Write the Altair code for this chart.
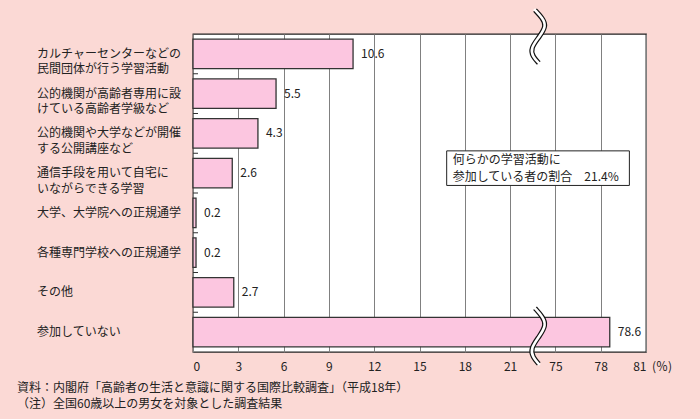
import altair as alt
import pandas as pd

FONT = "Noto Sans CJK JP"

categories = [
    "カルチャーセンターなどの\n民間団体が行う学習活動",
    "公的機関が高齢者専用に設\nけている高齢者学級など",
    "公的機関や大学などが開催\nする公開講座など",
    "通信手段を用いて自宅に\nいながらできる学習",
    "大学、大学院への正規通学",
    "各種専門学校への正規通学",
    "その他",
    "参加していない",
]
values = [10.6, 5.5, 4.3, 2.6, 0.2, 0.2, 2.7, 78.6]
tick_values = [0, 3, 6, 9, 12, 15, 18, 21, 75, 78, 81]
BREAK_LOW, BREAK_HIGH = 24, 75   # axis break: 24 on the display scale shows 75
SHIFT = BREAK_HIGH - BREAK_LOW

box_lines = ["何らかの学習活動に", "参加している者の割合　21.4%"]
notes = [
    "資料：内閣府「高齢者の生活と意識に関する国際比較調査」（平成18年）",
    "（注）全国60歳以上の男女を対象とした調査結果",
]

disp_ticks = [v if v <= 21 else v - SHIFT for v in tick_values]

df = pd.DataFrame({"cat": categories, "value": values, "idx": list(range(len(values)))})

xscale = alt.Scale(domain=[0, 30], nice=False, zero=True)
yscale = alt.Scale(domain=[0, 8], nice=False, zero=False, reverse=True)
xaxis = alt.Axis(
    values=disp_ticks,
    labelExpr=f"datum.value <= 21 ? '' + datum.value : '' + (datum.value + {SHIFT})",
    title=None, grid=True, gridColor="#808080", gridWidth=1,
    domain=False, ticks=False, labelPadding=9, labelFont=FONT,
    labelFontSize=12, labelColor="#222222",
)


def X(field, **kw):
    return alt.X(field, type="quantitative", scale=xscale, axis=xaxis, **kw)


def Y(field):
    return alt.Y(field, type="quantitative", scale=yscale, axis=None)


base = alt.Chart(df).transform_calculate(
    disp=f"datum.value <= {BREAK_LOW} ? datum.value : datum.value - {SHIFT}",
    zero="0",
    y0="datum.idx + 0.13",
    y1="datum.idx + 0.87",
    ymid="datum.idx + 0.5",
)

bars = base.mark_rect(fill="#FCC6E0", stroke="#333333", strokeWidth=1.3).encode(
    x=X("zero"), x2="disp:Q", y=Y("y0"), y2="y1:Q"
)

vlabels = base.mark_text(align="left", baseline="middle", dx=8, font=FONT,
                         fontSize=12, color="#222222").encode(
    x=X("disp"), y=Y("ymid"), text=alt.Text("value:Q", format=".1f")
)

clabels = base.mark_text(align="left", baseline="middle", lineBreak="\n",
                         lineHeight=15.5, font=FONT, fontSize=12,
                         color="#222222").encode(
    x=alt.value(-156), y=Y("ymid"), text="cat:N"
)

bounds = pd.DataFrame({"b": list(range(1, len(values)))})
lticks = alt.Chart(bounds).mark_rule(color="#333333", strokeWidth=1).encode(
    x=alt.value(0), x2=alt.value(5), y=Y("b")
)

# annotation box
box_df = pd.DataFrame({"x1": [16.8], "x2": [28.9], "y1": [2.94], "y2": [3.81]})
box = alt.Chart(box_df).mark_rect(fill="white", stroke="#222222", strokeWidth=1).encode(
    x=X("x1"), x2="x2:Q", y=Y("y1"), y2="y2:Q"
)
box_txt_df = pd.DataFrame({"t": box_lines, "x": [17.2, 17.2], "y": [3.17, 3.585]})
box_txt = alt.Chart(box_txt_df).mark_text(align="left", baseline="middle", font=FONT,
                                          fontSize=12, color="#222222").encode(
    x=X("x"), y=Y("y"), text="t:N"
)

# axis break squiggles
cx = 22.85
sq_rows = []
for seg, (top, bot) in enumerate([(-0.6, 0.73), (6.9, 8.3)]):
    h = bot - top
    for o, (dx, t) in enumerate([(-0.2, 0.0), (0.3, 0.15), (0.55, 0.3), (0.1, 0.5),
                                 (-0.5, 0.72), (-0.35, 0.88), (0.05, 1.0)]):
        sq_rows.append({"seg": seg, "o": o, "x": cx + dx, "y": top + t * h})
sq_df = pd.DataFrame(sq_rows)
sq_black = alt.Chart(sq_df).mark_line(color="#111111", strokeWidth=5, interpolate="basis",
                                      strokeCap="butt").encode(
    x=X("x"), y=Y("y"), detail="seg:N", order="o:Q"
)
sq_white = alt.Chart(sq_df).mark_line(color="white", strokeWidth=2.6, interpolate="basis",
                                      strokeCap="square").encode(
    x=X("x"), y=Y("y"), detail="seg:N", order="o:Q"
)

pct = alt.Chart(pd.DataFrame({"t": ["(％)"]})).mark_text(
    align="left", baseline="middle", font=FONT, fontSize=12, color="#222222"
).encode(x=alt.value(459), y=alt.value(333), text="t:N")

note1 = alt.Chart(pd.DataFrame({"t": [notes[0]]})).mark_text(
    align="left", baseline="middle", font=FONT, fontSize=12, color="#222222"
).encode(x=alt.value(-176), y=alt.value(354), text="t:N")
note2 = alt.Chart(pd.DataFrame({"t": [notes[1]]})).mark_text(
    align="left", baseline="middle", font=FONT, fontSize=12, color="#222222"
).encode(x=alt.value(-176), y=alt.value(369.5), text="t:N")

chart = alt.layer(
    bars, vlabels, clabels, lticks, box, box_txt, sq_black, sq_white, pct, note1, note2
).properties(
    width=453, height=318,
    autosize=alt.AutoSizeParams(type="none"),
    padding={"left": 193, "top": 34, "right": 54, "bottom": 67},
    background="#FBD9D5",
).configure_view(
    fill="white", stroke="#222222", strokeWidth=1.3
)

chart.save("out.html", embed_options={"renderer": "svg", "actions": False})
